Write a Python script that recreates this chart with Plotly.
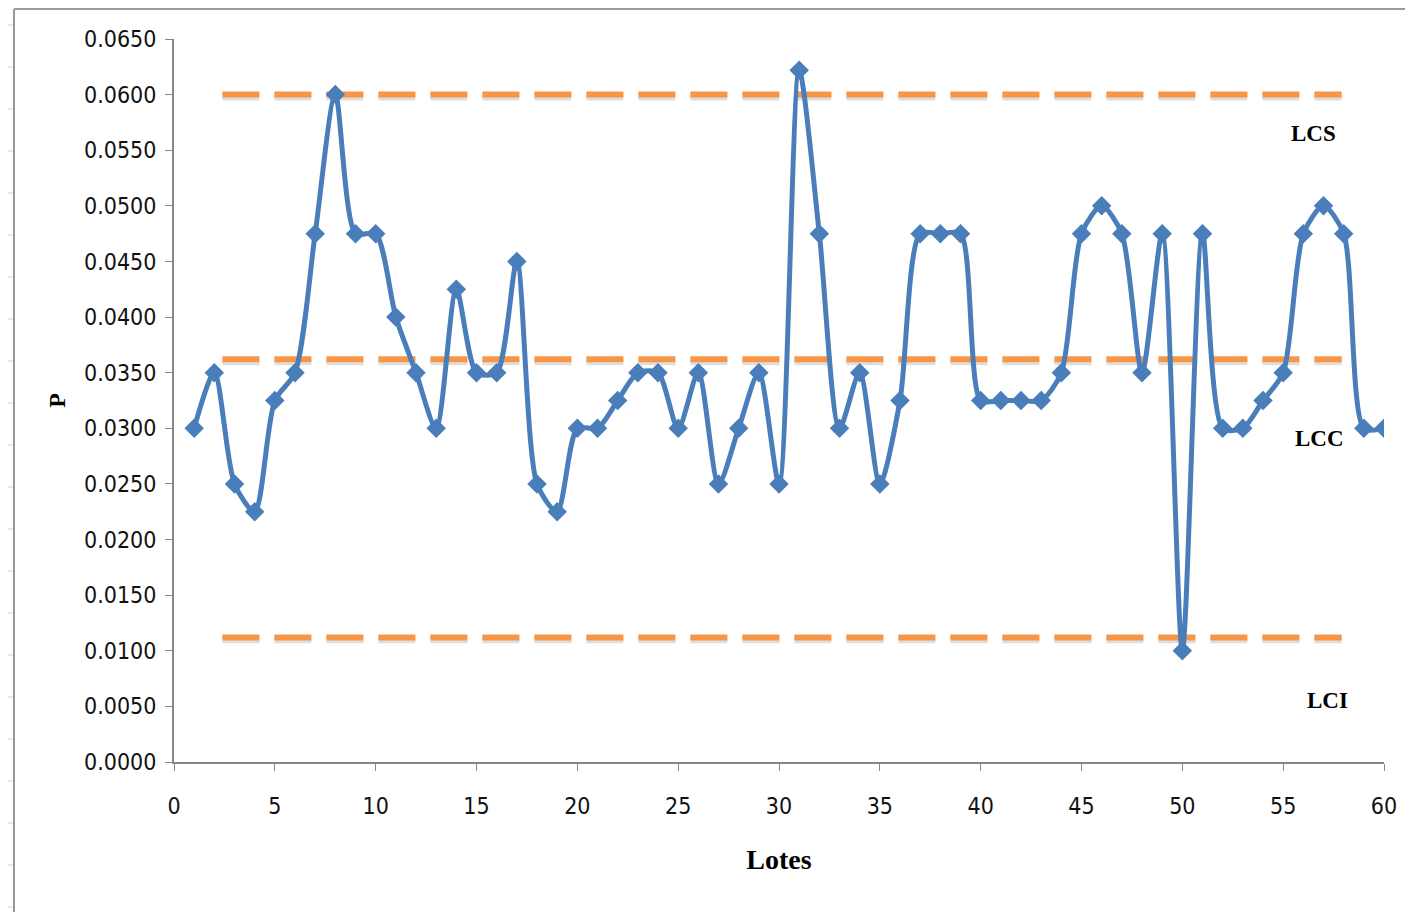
import plotly.graph_objects as go

# ---- data ----
lotes = list(range(1, 61))
p_values = [0.0300, 0.0350, 0.0250, 0.0225, 0.0325, 0.0350, 0.0475, 0.0600, 0.0475, 0.0475,
            0.0400, 0.0350, 0.0300, 0.0425, 0.0350, 0.0350, 0.0450, 0.0250, 0.0225, 0.0300,
            0.0300, 0.0325, 0.0350, 0.0350, 0.0300, 0.0350, 0.0250, 0.0300, 0.0350, 0.0250,
            0.0622, 0.0475, 0.0300, 0.0350, 0.0250, 0.0325, 0.0475, 0.0475, 0.0475, 0.0325,
            0.0325, 0.0325, 0.0325, 0.0350, 0.0475, 0.0500, 0.0475, 0.0350, 0.0475, 0.0100,
            0.0475, 0.0300, 0.0300, 0.0325, 0.0350, 0.0475, 0.0500, 0.0475, 0.0300, 0.0300]

limit_names = ["LCS", "LCC", "LCI"]
limit_values = [0.0600, 0.0362, 0.0112]
limit_x = [2.4, 57.9]
label_x = [56.5, 56.8, 57.2]
label_y = [0.0565, 0.0291, 0.0055]

tick_y = [i * 0.005 for i in range(14)]
tick_y_text = ["%.4f" % v for v in tick_y]
tick_x = list(range(0, 61, 5))

BLUE = "#4A7EBB"
ORANGE = "#F79646"
TICKFONT = dict(family="DejaVu Sans Condensed, DejaVu Sans, sans-serif", size=23, color="#111111")

fig = go.Figure()

# control limits (shadow + line)
for v in limit_values:
    fig.add_trace(go.Scatter(x=limit_x, y=[v - 0.00022, v - 0.00022], mode="lines",
                             line=dict(color="rgba(0,0,0,0.13)", width=7, dash="37px,15px"),
                             hoverinfo="skip", showlegend=False))
    fig.add_trace(go.Scatter(x=limit_x, y=[v, v], mode="lines",
                             line=dict(color=ORANGE, width=6, dash="37px,15px"),
                             hoverinfo="skip", showlegend=False))

fig.add_trace(go.Scatter(x=lotes, y=p_values, mode="lines+markers",
                         line=dict(color=BLUE, width=5, shape="spline", smoothing=0.75),
                         marker=dict(symbol="diamond", size=15, color=BLUE),
                         showlegend=False))

for name, lx, ly in zip(limit_names, label_x, label_y):
    fig.add_annotation(x=lx, y=ly, text="<b>%s</b>" % name, showarrow=False,
                       font=dict(family="Liberation Serif, serif", size=23, color="#000000"))

# page decorations (frame of the sheet); page has an 8px body margin
OFF = 8
W, H = 1413 - OFF, 912 - OFF
L, R, T, B = 174 - OFF, 1384 - OFF, 39 - OFF, 762 - OFF
def px(xp):
    return (xp - OFF - L) / (R - L)
def py(yp):
    return (B - (yp - OFF)) / (B - T)
shapes = []
shapes.append(dict(type="line", xref="paper", yref="paper", x0=px(14), x1=px(1413), y0=py(9), y1=py(9),
                   line=dict(color="#9A9A9A", width=2)))
shapes.append(dict(type="line", xref="paper", yref="paper", x0=px(14), x1=px(14), y0=py(9), y1=py(912),
                   line=dict(color="#9A9A9A", width=2)))
for k in range(10):
    xv = 96 + k * 137.3
    shapes.append(dict(type="line", xref="paper", yref="paper", x0=px(xv), x1=px(xv), y0=py(8), y1=py(8.5),
                       line=dict(color="#C5D3E8", width=1)))
for k in range(22):
    yv = 25 + k * 42
    shapes.append(dict(type="line", xref="paper", yref="paper", x0=px(8), x1=px(13), y0=py(yv), y1=py(yv),
                       line=dict(color="#C5D3E8", width=1)))

fig.update_layout(
    width=W, height=H,
    margin=dict(l=L, r=W - R, t=T, b=H - B),
    paper_bgcolor="white", plot_bgcolor="white",
    shapes=shapes,
    xaxis=dict(range=[0, 60], tickvals=tick_x, ticks="outside", ticklen=7, tickcolor="#868686",
               showline=True, linecolor="#868686", linewidth=2, showgrid=False, zeroline=False,
               tickfont=TICKFONT, ticklabelstandoff=15,
               title=dict(text="<b>Lotes</b>", font=dict(family="Liberation Serif, serif", size=28, color="#000"),
                          standoff=32)),
    yaxis=dict(range=[0, 0.065], tickvals=tick_y, ticktext=tick_y_text, ticks="outside", ticklen=7,
               tickcolor="#868686", showline=True, linecolor="#868686", linewidth=2, showgrid=False,
               zeroline=False, tickfont=TICKFONT, ticklabelstandoff=4,
               title=dict(text="<b>P</b>", font=dict(family="Liberation Serif, serif", size=24, color="#000"),
                          standoff=12)),
)

fig.write_html("out.html")
